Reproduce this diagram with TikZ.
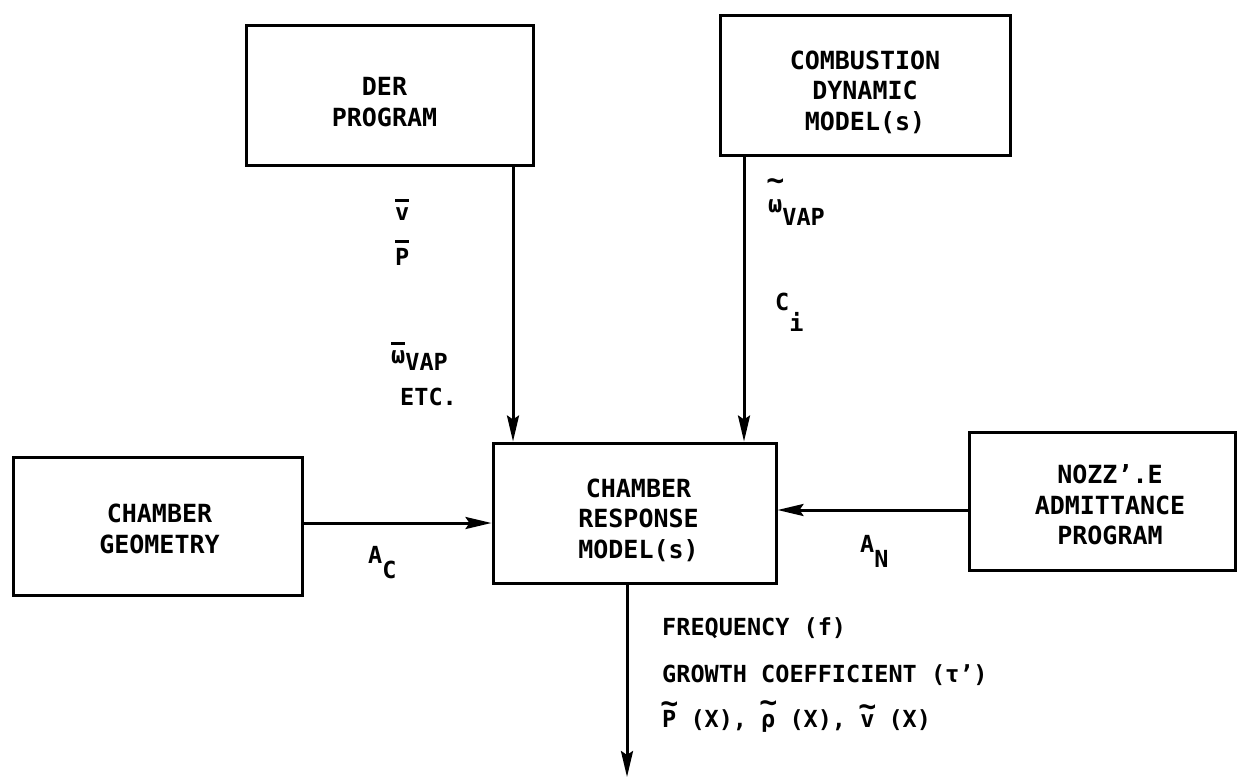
\documentclass[tikz,border=0pt]{standalone}
\usepackage{fontspec}
\setmainfont{DejaVu Sans Mono}[BoldFont={DejaVu Sans Mono Bold}]
\usetikzlibrary{arrows.meta}
\newcommand\ovbar[1]{\leavevmode\setbox0\hbox{#1}\vbox{\offinterlineskip\hrule width\wd0 height 3pt\kern 5pt\box0}}
\newcommand\ovtil[2][20pt]{\leavevmode\setbox0\hbox{#2}\hbox to\wd0{\hss\raisebox{#1}{\fontsize{30}{30}\selectfont\char`\~}\hss}\hskip-\wd0\box0\relax}
\tikzset{
  box/.style={draw, line width=3pt, rectangle, inner sep=0pt},
  btxt/.style={align=center, inner sep=0pt, font=\fontsize{25}{30.5}\selectfont\bfseries},
  lbl/.style={inner sep=0pt, anchor=base west, font=\fontsize{23.5}{30}\selectfont\bfseries},
  arr/.style={line width=3pt, -{Stealth[length=26pt,width=12pt,inset=4pt]}},
}
\begin{document}
\begin{tikzpicture}[x=1pt,y=-1pt]
\useasboundingbox (0,0) rectangle (1238,779);
% boxes
\node[box, minimum width=287pt, minimum height=140pt] (der) at (389.5,95) {};
\node[box, minimum width=290pt, minimum height=140pt] (comb) at (865,85) {};
\node[box, minimum width=289pt, minimum height=138pt] (geo) at (157.5,526) {};
\node[box, minimum width=283pt, minimum height=140pt] (crm) at (634.5,513) {};
\node[box, minimum width=266pt, minimum height=138pt] (noz) at (1102,501) {};
% box texts
\node[btxt] (dert) at ([xshift=-5pt,yshift=-7pt]der.center) {DER\\PROGRAM};
\node[btxt] (combt) at ([yshift=-7pt]comb.center) {COMBUSTION\\DYNAMIC\\MODEL(s)};
\node[btxt] (geot) at ([xshift=2pt,yshift=-3pt]geo.center) {CHAMBER\\GEOMETRY};
\node[btxt] (crmt) at ([xshift=4pt,yshift=-7pt]crm.center) {CHAMBER\\RESPONSE\\MODEL(s)};
\node[btxt] (nozt) at ([xshift=8pt,yshift=-4pt]noz.center) {NOZZ'.E\\ADMITTANCE\\PROGRAM};
% helper coordinates
\coordinate (xd) at (513,0);
\coordinate (xc) at (744,0);
\coordinate (yg) at (0,523);
\coordinate (yn) at (0,510);
\coordinate (xo) at (627,0);
\coordinate (out) at (627,777);
% connectors
\draw[arr] (der.south -| xd) -- (crm.north -| xd);
\draw[arr] (comb.south -| xc) -- (crm.north -| xc);
\draw[arr] (geo.east |- yg) -- (crm.west |- yg);
\draw[arr] (noz.west |- yn) -- (crm.east |- yn);
\draw[arr] (crm.south -| xo) -- (out);
% labels
\node[lbl] (lv) at (395,220) {\ovbar{v}};
\node[lbl] (lp) at (395,265) {\ovbar{P}};
\node[lbl] (lw) at (391,363) {\ovbar{ω}\raisebox{-7pt}{VAP}};
\node[lbl] (le) at (400,405) {ETC.};
\node[lbl] (lwt) at (768,212) {\ovtil[22pt]{ω}\raisebox{-13pt}{VAP}};
\node[lbl] (lci) at (775,310) {C\raisebox{-21pt}{i}};
\node[lbl] (lac) at (368,563) {A\raisebox{-15pt}{C}};
\node[lbl] (lan) at (860,552) {A\raisebox{-15pt}{N}};
\node[lbl] (o1) at (662,635) {FREQUENCY (f)};
\node[lbl] (o2) at (662,682) {GROWTH COEFFICIENT (τ')};
\node[lbl] (o3) at (662,727) {\ovtil[14pt]{P} (X), \ovtil[15pt]{ρ} (X), \ovtil[11pt]{v} (X)};
\end{tikzpicture}
\end{document}
